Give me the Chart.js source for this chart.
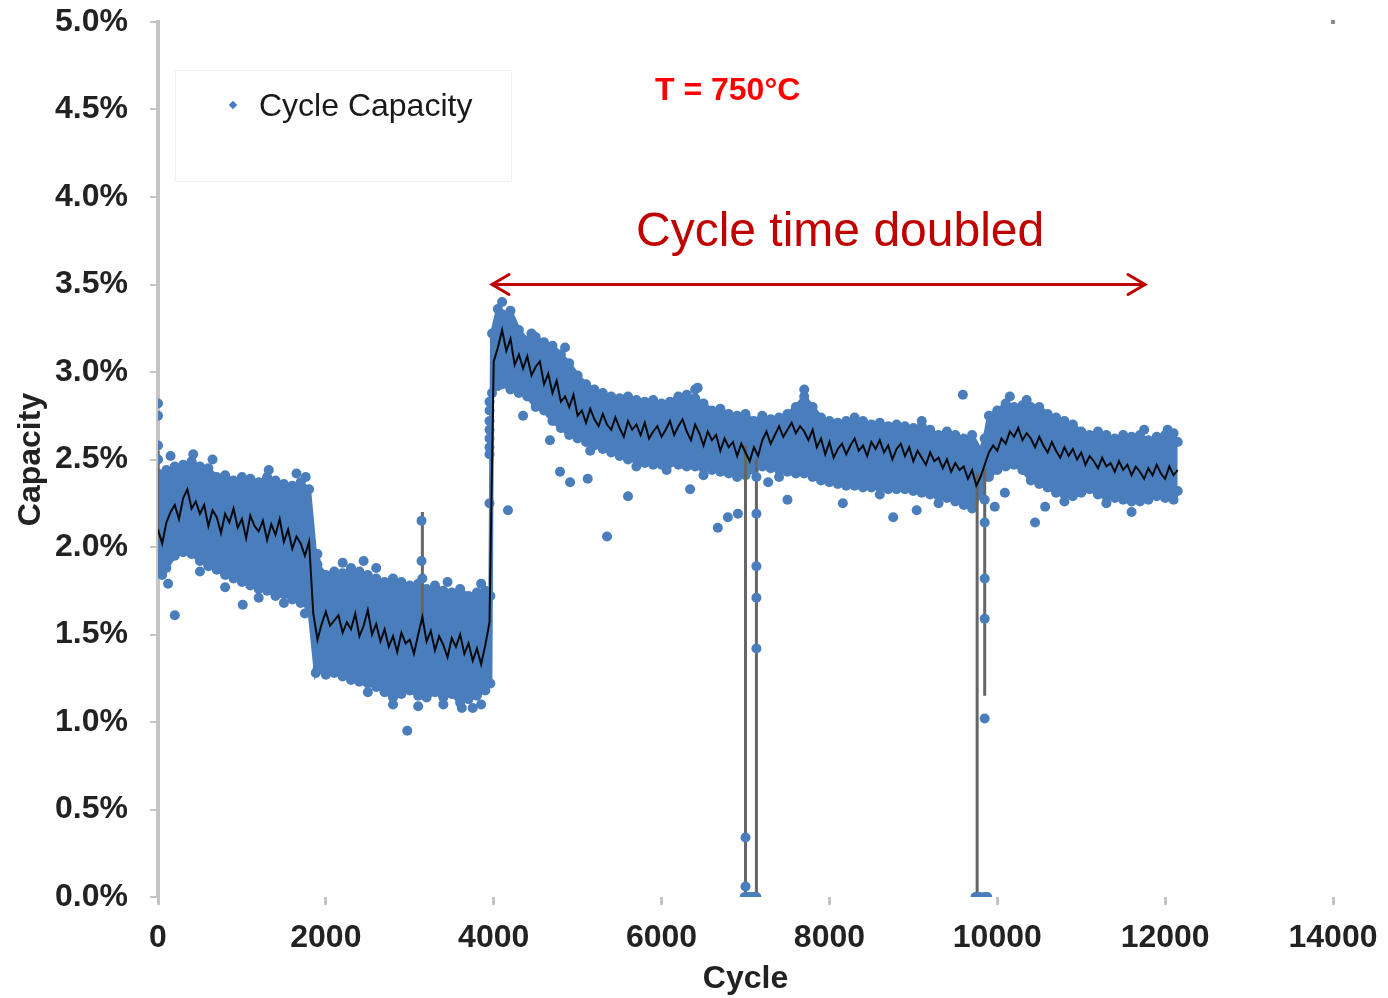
<!DOCTYPE html>
<html>
<head>
<meta charset="utf-8">
<script src="https://cdn.jsdelivr.net/npm/chart.js@4.4.1/dist/chart.umd.min.js"></script>
<style>
  body { margin: 0; background: #fff; }
  #wrap { position: relative; width: 1388px; height: 998px; font-family: "Liberation Sans", Arial, sans-serif; }
  #myChart { position: absolute; left: 0; top: 0; }
  .txt { position: absolute; white-space: nowrap; }
  #legend { position: absolute; left: 175px; top: 70px; width: 337px; height: 112px; border: 1px solid #f1f1f1; box-sizing: border-box; }
  #legendMark { position: absolute; left: 230px; top: 102px; width: 6px; height: 6px; background: #4a7dbc; transform: rotate(45deg); }
</style>
</head>
<body>
<div id="wrap">
  <canvas id="myChart" width="1388" height="998"></canvas>
  <div id="legend"></div>
  <div id="legendMark"></div>
  <div class="txt" style="left:259px; top:89px; font-size:32px; line-height:32px; color:#1a1a1a;">Cycle Capacity</div>
  <div class="txt" style="left:655px; top:73px; font-size:32px; line-height:32px; font-weight:bold; color:#ff0000;">T = 750°C</div>
  <div class="txt" style="left:636px; top:206px; font-size:48px; line-height:48px; color:#c00000;">Cycle time doubled</div>
</div>
<script>
// x ticks
var xTicks = [0, 2000, 4000, 6000, 8000, 10000, 12000, 14000]
var yTicks = ['0.0%', '0.5%', '1.0%', '1.5%', '2.0%', '2.5%', '3.0%', '3.5%', '4.0%', '4.5%', '5.0%']

// envelope of the dense blue cloud (cycle, capacity %)
var bandX = [0, 50, 100, 200, 300, 400, 500, 600, 700, 800, 900, 1000, 1100, 1200, 1300, 1400, 1500, 1600, 1700, 1800,
    1880, 1900, 2000, 2100, 2200, 2300, 2400, 2500, 2600, 2700, 2800, 2900, 3000, 3100, 3200, 3300, 3400, 3500, 3600, 3700, 3800, 3900, 3960,
    3980, 4050, 4100, 4200, 4300, 4400, 4500, 4600, 4700, 4800, 4900, 5000, 5100, 5200, 5300, 5400, 5500, 5600, 5700, 5800, 5900, 6000,
    6100, 6200, 6300, 6400, 6500, 6600, 6700, 6800, 6900, 7000, 7100,
    7200, 7300, 7400, 7500, 7600, 7700, 7800, 7900, 8000, 8100, 8200, 8300, 8400, 8500, 8600, 8700, 8800, 8900, 9000, 9100, 9200, 9300, 9400, 9500, 9600, 9700, 9800,
    9850, 9900, 10000, 10100, 10200, 10300, 10400, 10500, 10600, 10700, 10800, 10900, 11000, 11100, 11200, 11300, 11400, 11500, 11600, 11700, 11800, 11900, 12000, 12100, 12150]
var bandHi = [2.42, 2.38, 2.44, 2.46, 2.47, 2.49, 2.46, 2.45, 2.40, 2.41, 2.38, 2.40, 2.39, 2.37, 2.40, 2.38, 2.36, 2.35, 2.37, 2.33,
    1.92, 1.90, 1.84, 1.86, 1.85, 1.88, 1.86, 1.84, 1.82, 1.80, 1.82, 1.80, 1.78, 1.79, 1.76, 1.78, 1.75, 1.74, 1.76, 1.72, 1.74, 1.75, 1.72,
    3.22, 3.36, 3.33, 3.35, 3.24, 3.18, 3.20, 3.17, 3.15, 3.10, 3.05, 2.98, 2.93, 2.90, 2.88, 2.86, 2.85, 2.86, 2.84, 2.83, 2.84, 2.82,
    2.83, 2.86, 2.87, 2.85, 2.82, 2.78, 2.79, 2.76, 2.75, 2.76, 2.72,
    2.75, 2.73, 2.74, 2.76, 2.80, 2.86, 2.80, 2.74, 2.72, 2.71, 2.72, 2.70, 2.72, 2.70, 2.71, 2.69, 2.70, 2.69, 2.68, 2.69, 2.67, 2.64, 2.66, 2.64, 2.62, 2.64, 2.55,
    2.62, 2.75, 2.78, 2.82, 2.80, 2.81, 2.80, 2.80, 2.76, 2.74, 2.72, 2.70, 2.66, 2.64, 2.66, 2.64, 2.62, 2.64, 2.63, 2.64, 2.61, 2.63, 2.64, 2.65, 2.60]
var bandLo = [1.85, 1.84, 1.88, 1.95, 1.97, 1.96, 1.92, 1.89, 1.87, 1.84, 1.82, 1.80, 1.78, 1.76, 1.75, 1.72, 1.73, 1.70, 1.68, 1.66,
    1.28, 1.30, 1.27, 1.28, 1.26, 1.24, 1.23, 1.22, 1.20, 1.17, 1.14, 1.16, 1.18, 1.15, 1.14, 1.17, 1.14, 1.16, 1.11, 1.13, 1.15, 1.18, 1.22,
    2.88, 2.92, 2.93, 2.90, 2.88, 2.86, 2.80, 2.78, 2.72, 2.68, 2.64, 2.62, 2.60, 2.58, 2.56, 2.54, 2.52, 2.50, 2.50, 2.48, 2.47, 2.47,
    2.48, 2.47, 2.46, 2.46, 2.45, 2.44, 2.43, 2.42, 2.40, 2.41, 2.44,
    2.46, 2.45, 2.44, 2.43, 2.42, 2.42, 2.40, 2.38, 2.37, 2.36, 2.35, 2.35, 2.34, 2.34, 2.34, 2.33, 2.33, 2.33, 2.32, 2.31, 2.30, 2.29, 2.28, 2.26, 2.24, 2.22, 2.30,
    2.40, 2.40, 2.44, 2.46, 2.47, 2.44, 2.38, 2.36, 2.34, 2.31, 2.30, 2.29, 2.31, 2.33, 2.30, 2.29, 2.28, 2.27, 2.26, 2.26, 2.27, 2.29, 2.28, 2.30, 2.32]

// black running average, one value every 50 cycles from 0 to 12150
var avgStep = 50
var avgValues = [
    2.10, 2.02, 2.14, 2.20, 2.24, 2.16, 2.28, 2.33, 2.22, 2.26, 2.19, 2.24, 2.12, 2.21, 2.17, 2.08, 2.19, 2.14, 2.22, 2.11,
    2.16, 2.05, 2.18, 2.12, 2.09, 2.15, 2.04, 2.13, 2.07, 2.16, 2.03, 2.10, 1.99, 2.06, 2.02, 1.95, 2.03, 1.62,
    1.47, 1.56, 1.63, 1.55, 1.58, 1.61, 1.51, 1.57, 1.53, 1.62, 1.49, 1.55, 1.64, 1.50, 1.56, 1.46, 1.53, 1.43, 1.49, 1.40,
    1.51, 1.45, 1.47, 1.39, 1.50, 1.60, 1.46, 1.52, 1.41, 1.49, 1.44, 1.37, 1.48, 1.43, 1.50, 1.39, 1.45, 1.35, 1.42, 1.33,
    1.44, 1.57,
    3.06, 3.14, 3.24, 3.12, 3.19, 3.04, 3.10, 3.02, 3.09, 2.98, 3.03, 3.06, 2.93, 2.99, 2.88, 2.95, 2.83, 2.86, 2.80, 2.87,
    2.75, 2.78, 2.71, 2.79, 2.73, 2.69, 2.76, 2.70, 2.67, 2.74, 2.68, 2.63, 2.72, 2.67, 2.70, 2.64, 2.71, 2.62, 2.66, 2.69,
    2.63, 2.67, 2.72, 2.64, 2.69, 2.73, 2.66, 2.61, 2.70, 2.65, 2.58, 2.66, 2.61, 2.64, 2.55, 2.62, 2.57, 2.60, 2.52, 2.59,
    2.54,
    2.49, 2.57, 2.52, 2.61, 2.66, 2.59, 2.64, 2.69, 2.63, 2.67, 2.71, 2.65, 2.69, 2.66, 2.61, 2.67, 2.57, 2.62, 2.53, 2.60,
    2.51, 2.56, 2.59, 2.53, 2.58, 2.62, 2.55, 2.58, 2.52, 2.60, 2.56, 2.61, 2.54, 2.58, 2.50, 2.56, 2.59, 2.52, 2.57, 2.49,
    2.55, 2.51, 2.47, 2.54, 2.49, 2.51, 2.45, 2.50, 2.43, 2.48, 2.44, 2.46, 2.39, 2.44, 2.35, 2.40,
    2.47, 2.54, 2.58, 2.55, 2.62, 2.59, 2.66, 2.63, 2.68, 2.61, 2.65, 2.62, 2.57, 2.63, 2.58, 2.54, 2.60, 2.55, 2.51, 2.57,
    2.52, 2.56, 2.50, 2.54, 2.47, 2.52, 2.49, 2.45, 2.51, 2.46, 2.48, 2.43, 2.49, 2.44, 2.47, 2.41, 2.46, 2.43, 2.39, 2.45,
    2.41, 2.47, 2.42, 2.39, 2.46, 2.41, 2.44]

// grey drop lines (cycle / top / bottom)
var dropCycles = [0, 3150, 7000, 7130, 9760, 9850]
var dropTop = [2.55, 2.20, 2.58, 2.52, 2.42, 2.45]
var dropBottom = [2.05, 1.55, 0.0, 0.0, 0.0, 1.15]

// single scattered points outside the cloud
var strayCycles = [0, 0, 0, 0, 200, 800, 1010, 2970, 3620, 3140, 3140, 3150,
    3950, 3950, 3950, 3950, 3950, 3950, 3950, 3950,
    4170, 4350, 4670, 4790, 4910, 5120, 5350, 5600, 6060, 6340, 6430, 6670, 6790, 6910,
    6990, 7000, 7000, 7030, 7060, 7090, 7130, 7130, 7130, 7130, 7130, 7130, 7130,
    7270, 7500, 8160, 8760, 9040, 9590, 9740, 9760, 9790, 9850, 9850, 9850, 9850, 9850, 9850, 9880,
    9970, 10090, 10450, 10570, 11600, 12030,
    150, 420, 650, 1320, 1650, 1760, 120, 500, 1200, 1500, 1750,
    1900, 2200, 2450, 2600, 3450, 3850, 2500, 2800, 3100, 3400, 3750, 3850,
    4100, 4450, 4850, 6400, 5150, 5700, 6500,
    7700, 8300, 9100, 7400, 8600, 9300,
    10150, 10350, 11750, 10800, 11300, 12100]
var strayValues = [2.82, 2.75, 2.58, 2.50, 1.61, 1.77, 1.67, 0.95, 1.08, 2.15, 1.92, 1.82,
    2.83, 2.78, 2.72, 2.67, 2.62, 2.57, 2.53, 2.25,
    2.21, 2.75, 2.61, 2.43, 2.37, 2.39, 2.06, 2.29, 2.44, 2.33, 2.91, 2.11, 2.17, 2.19,
    0.0, 0.34, 0.06, 0.0, 0.0, 0.0, 2.53, 2.40, 2.19, 1.89, 1.71, 1.42, 0.0,
    2.37, 2.27, 2.25, 2.17, 2.21, 2.87, 0.0, 0.0, 0.0, 2.27, 2.14, 1.82, 1.59, 1.02, 0.0, 0.0,
    2.23, 2.31, 2.14, 2.23, 2.20, 2.67,
    2.52, 2.53, 2.50, 2.44, 2.42, 2.40, 1.79, 1.86, 1.71, 1.68, 1.62,
    1.96, 1.91, 1.92, 1.88, 1.80, 1.79, 1.17, 1.10, 1.09, 1.10, 1.08, 1.10,
    3.40, 3.22, 3.14, 2.90, 2.55, 2.46, 2.41,
    2.90, 2.74, 2.72, 2.40, 2.30, 2.25,
    2.86, 2.84, 2.67, 2.26, 2.25, 2.27]

// arrow annotation
var arrowCycles = [3980, 11760]
var arrowLevel = 3.5

var blue = '#4a7dbc'

function xy(xs, ys) {
    var out = []
    for (var i = 0; i < xs.length; i++) out.push({ x: xs[i], y: ys[i] })
    return out
}

function avgData() {
    var out = []
    for (var i = 0; i < avgValues.length; i++) out.push({ x: i * avgStep, y: avgValues[i] })
    return out
}

function dropData() {
    var out = []
    for (var i = 0; i < dropCycles.length; i++) {
        out.push({ x: dropCycles[i], y: dropTop[i] })
        out.push({ x: dropCycles[i], y: dropBottom[i] })
        out.push({ x: dropCycles[i], y: null })
    }
    return out
}

var extras = {
    id: 'extras',
    afterDraw: function (chart) {
        var ctx = chart.ctx
        var xs = chart.scales.x, ys = chart.scales.y
        var x1 = xs.getPixelForValue(arrowCycles[0])
        var x2 = xs.getPixelForValue(arrowCycles[1])
        var y = ys.getPixelForValue(arrowLevel)
        ctx.save()
        ctx.strokeStyle = '#c00000'
        ctx.lineWidth = 3
        ctx.lineCap = 'round'
        ctx.beginPath()
        ctx.moveTo(x1, y); ctx.lineTo(x2, y)
        ctx.moveTo(x1 + 17, y - 10); ctx.lineTo(x1, y); ctx.lineTo(x1 + 17, y + 10)
        ctx.moveTo(x2 - 17, y - 10); ctx.lineTo(x2, y); ctx.lineTo(x2 - 17, y + 10)
        ctx.stroke()
        // small corner mark at top right of plot
        ctx.fillStyle = '#8c8c8c'
        ctx.fillRect(chart.chartArea.right - 2, chart.chartArea.top - 2, 4, 4)
        ctx.restore()
    }
}

function Graphic() {
    var ctx = document.getElementById('myChart')
    var font = { family: '"Liberation Sans", Arial, sans-serif', size: 32, weight: 'bold' }
    new Chart(ctx, {
        type: 'line',
        data: {
            datasets: [{
                label: 'average',
                data: avgData(),
                borderColor: 'rgba(0,0,0,0.92)',
                borderWidth: 2,
                pointRadius: 0,
                fill: false
            },
            {
                label: 'stray',
                data: xy(strayCycles, strayValues),
                showLine: false,
                pointRadius: 5,
                pointBackgroundColor: blue,
                pointBorderWidth: 0
            },
            {
                label: 'drops',
                data: dropData(),
                borderColor: '#666',
                borderWidth: 3,
                pointRadius: 0,
                spanGaps: false,
                fill: false
            },
            {
                label: 'upper',
                data: xy(bandX, bandHi),
                borderColor: blue,
                borderWidth: 4,
                backgroundColor: blue,
                pointRadius: 5,
                pointBackgroundColor: blue,
                pointBorderWidth: 0,
                fill: '+1'
            },
            {
                label: 'lower',
                data: xy(bandX, bandLo),
                borderColor: blue,
                borderWidth: 4,
                pointRadius: 5,
                pointBackgroundColor: blue,
                pointBorderWidth: 0,
                fill: false
            }]
        },
        options: {
            responsive: false,
            animation: false,
            events: [],
            layout: { padding: { left: 0, right: 55, top: 22, bottom: 0 } },
            plugins: { legend: { display: false }, tooltip: { enabled: false } },
            scales: {
                x: {
                    type: 'linear',
                    min: 0,
                    max: 14000,
                    afterBuildTicks: function (s) { s.ticks = xTicks.map(function (v) { return { value: v } }) },
                    ticks: {
                        font: font, color: '#222', padding: 14, maxRotation: 0,
                        callback: function (v) { return '' + v }
                    },
                    grid: { drawOnChartArea: false, color: '#c4c4c4', lineWidth: 3, tickLength: 8 },
                    border: { display: false },
                    title: { display: true, text: 'Cycle', font: font, color: '#222', padding: 0 },
                    afterFit: function (s) { s.height = 101; s.paddingLeft = 0; s.paddingRight = 0 }
                },
                y: {
                    min: 0,
                    max: 5,
                    afterBuildTicks: function (s) { s.ticks = yTicks.map(function (t, i) { return { value: i * 0.5 } }) },
                    ticks: {
                        font: font, color: '#222', padding: 22,
                        callback: function (v) { return yTicks[Math.round(v * 2)] }
                    },
                    grid: { drawOnChartArea: false, color: '#c4c4c4', lineWidth: 2, tickLength: 8 },
                    border: { display: true, color: '#c4c4c4', width: 4 },
                    title: { display: true, text: 'Capacity', font: font, color: '#222', padding: { top: 12, bottom: 0 } },
                    afterFit: function (s) { s.width = 158; s.paddingTop = 0; s.paddingBottom = 0 }
                }
            }
        },
        plugins: [extras]
    })
}

window.addEventListener('load', Graphic)
</script>
</body>
</html>
